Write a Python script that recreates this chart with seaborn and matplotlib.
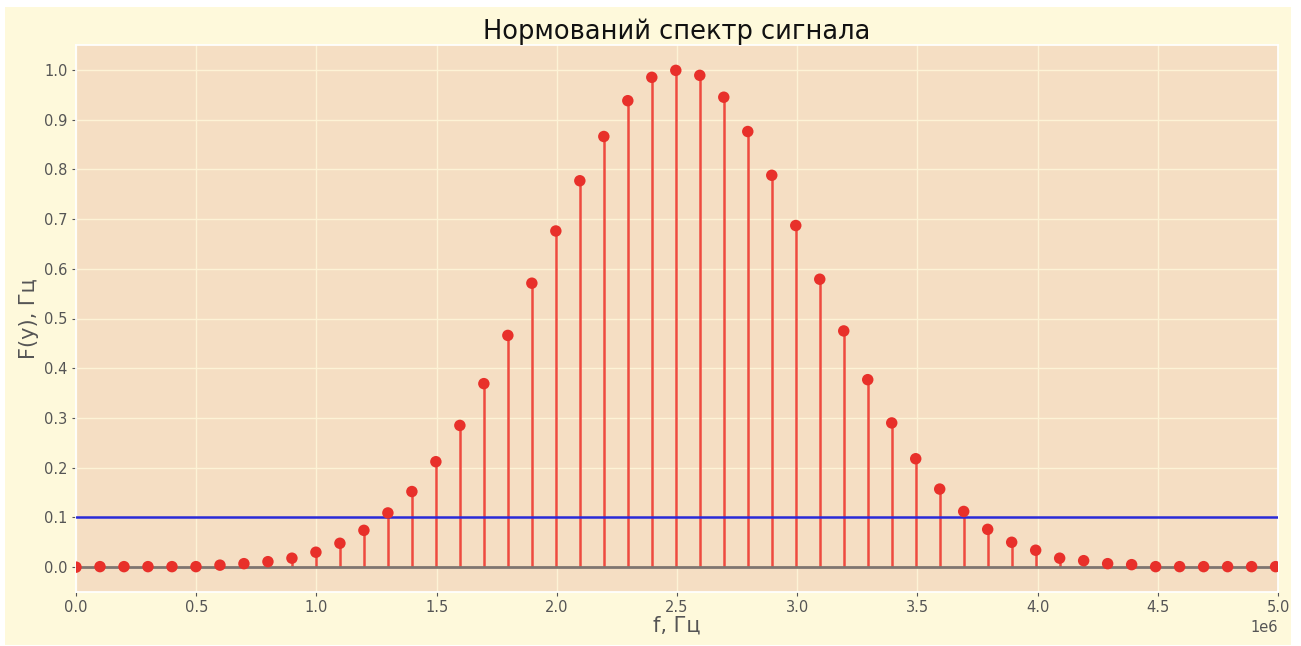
import numpy as np
import pandas as pd
import matplotlib
matplotlib.use("Agg")
import matplotlib.pyplot as plt
from matplotlib.patches import Rectangle
import seaborn as sns

# frequencies in MHz (x axis shown with 1e6 offset)
freq_mhz = [0.0, 0.0998, 0.1996, 0.2994, 0.3992, 0.499, 0.5988, 0.6986, 0.7984, 0.8982,
            0.998, 1.0978, 1.1976, 1.2974, 1.3972, 1.497, 1.5968, 1.6966, 1.7964, 1.8962,
            1.996, 2.0958, 2.1956, 2.2954, 2.3952, 2.495, 2.5948, 2.6946, 2.7944, 2.8942,
            2.994, 3.0938, 3.1936, 3.2934, 3.3932, 3.493, 3.5928, 3.6926, 3.7924, 3.8922,
            3.992, 4.0918, 4.1916, 4.2914, 4.3912, 4.491, 4.5908, 4.6906, 4.7904, 4.8902,
            4.99]
amplitude = [0.000, 0.001, 0.001, 0.001, 0.001, 0.001, 0.004, 0.007, 0.011, 0.018,
             0.030, 0.048, 0.074, 0.109, 0.152, 0.212, 0.285, 0.369, 0.466, 0.571,
             0.676, 0.777, 0.866, 0.938, 0.985, 0.999, 0.989, 0.945, 0.876, 0.788,
             0.687, 0.579, 0.475, 0.377, 0.290, 0.218, 0.157, 0.112, 0.076, 0.050,
             0.034, 0.018, 0.013, 0.007, 0.005, 0.001, 0.001, 0.001, 0.001, 0.001,
             0.001]
threshold = 0.1
x_ticks = [0.0, 0.5, 1.0, 1.5, 2.0, 2.5, 3.0, 3.5, 4.0, 4.5, 5.0]
y_ticks = [0.0, 0.1, 0.2, 0.3, 0.4, 0.5, 0.6, 0.7, 0.8, 0.9, 1.0]

df = pd.DataFrame({"f": np.array(freq_mhz) * 1e6, "F": amplitude})

sns.set_theme(style="darkgrid", rc={
    "axes.facecolor": "#f5dec3",
    "grid.color": "#fdf3d6",
    "grid.linewidth": 1.0,
    "xtick.bottom": True,
    "ytick.left": True,
    "xtick.color": "#555555",
    "ytick.color": "#555555",
    "xtick.major.size": 3,
    "ytick.major.size": 3,
    "xtick.major.width": 0.8,
    "ytick.major.width": 0.8,
})
plt.rcParams['font.family'] = ['DejaVu Sans']

W, H = 1301, 646
fig = plt.figure(figsize=(W / 100, H / 100), dpi=100, facecolor="white")
fig.patches.append(Rectangle((5 / W, 1 - 645 / H), (1291 - 5) / W, (645 - 7) / H,
                             transform=fig.transFigure, facecolor="#fef9db",
                             edgecolor="none", zorder=-10))
ax = fig.add_axes([76 / W, 1 - 592 / H, (1278 - 76) / W, (592 - 45) / H])

ax.vlines(df["f"], 0, df["F"], color="#ee4a3f", linewidth=1.8, zorder=2)
ax.axhline(0, color="#7f7570", linewidth=2.0, zorder=2.5)
ax.axhline(threshold, color="#2a2ad8", linewidth=1.8, zorder=3)
sns.scatterplot(data=df, x="f", y="F", ax=ax, color="#e8302a", s=68,
                edgecolor="none", zorder=4, clip_on=True)

ax.set_xlim(0, 5e6)
ax.set_ylim(-0.05, 1.05)
ax.set_xticks([t * 1e6 for t in x_ticks])
ax.set_yticks(y_ticks)
ax.ticklabel_format(axis="x", style="sci", scilimits=(0, 0), useMathText=False)
ax.tick_params(axis="both", labelsize=10.5, labelcolor="#555555", pad=3)
ax.xaxis.get_offset_text().set_color("#555555")
ax.xaxis.get_offset_text().set_fontsize(10.5)

ax.set_title("Нормований спектр сигнала", fontsize=18.5, color="#111111", pad=4)
ax.set_xlabel("f, Гц", fontsize=15, color="#555555", labelpad=0)
ax.set_ylabel("F(y), Гц", fontsize=15, color="#555555", labelpad=4)

fig.savefig("out.png", dpi=100, facecolor=fig.get_facecolor())
